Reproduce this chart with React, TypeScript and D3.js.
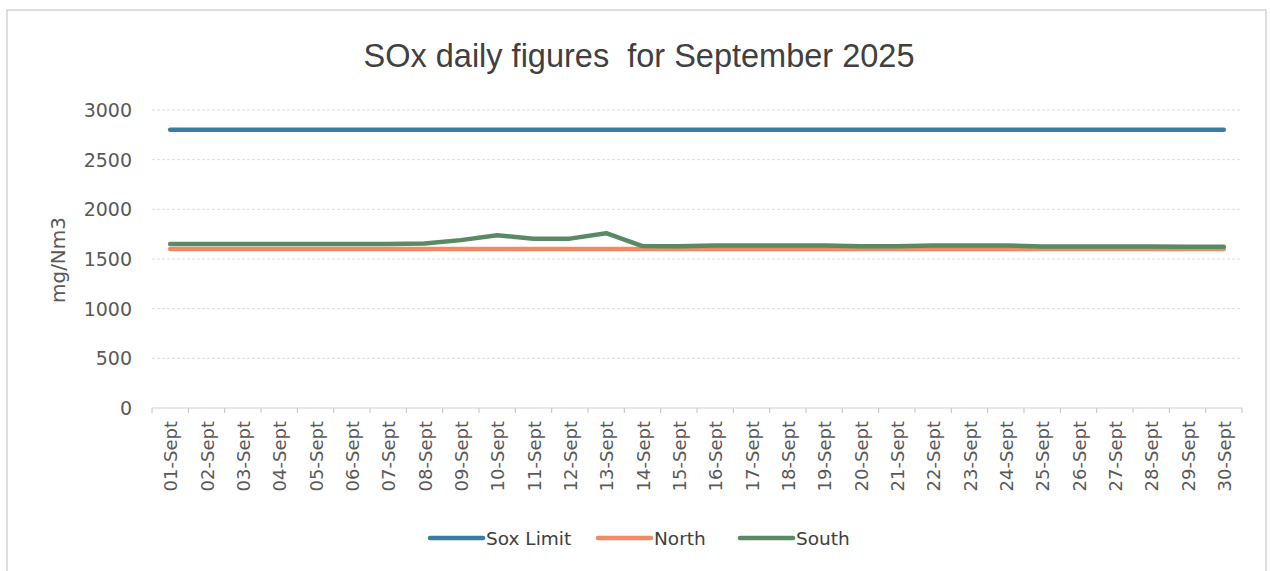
import React from "react";
import * as d3 from "d3";

const days: string[] = [
  "01-Sept","02-Sept","03-Sept","04-Sept","05-Sept","06-Sept","07-Sept","08-Sept","09-Sept","10-Sept",
  "11-Sept","12-Sept","13-Sept","14-Sept","15-Sept","16-Sept","17-Sept","18-Sept","19-Sept","20-Sept",
  "21-Sept","22-Sept","23-Sept","24-Sept","25-Sept","26-Sept","27-Sept","28-Sept","29-Sept","30-Sept",
];
const soxLimit: number[] = Array(30).fill(2800);
const north: number[] = [
  1600,1600,1600,1600,1600,1600,1600,1600,1600,1600,
  1600,1600,1600,1600,1600,1600,1600,1600,1600,1600,
  1600,1600,1600,1600,1600,1600,1600,1600,1600,1600,
];
const south: number[] = [
  1650,1650,1650,1650,1650,1650,1650,1655,1690,1740,
  1705,1705,1760,1630,1628,1636,1636,1636,1636,1628,
  1628,1636,1636,1636,1626,1626,1626,1626,1624,1624,
];
const yTicks: number[] = [0, 500, 1000, 1500, 2000, 2500, 3000];

const seriesNames = ["Sox Limit", "North", "South"];
const seriesColors = ["#3A7CA3", "#F28A67", "#5A8A64"];

const W = 1270, H = 571;
const plotLeft = 152, plotRight = 1242, plotTop = 110, plotBottom = 408;
const titleFont = "'Liberation Sans', Arial, sans-serif";
const font = "'DejaVu Sans', Verdana, sans-serif";

export default function App() {
  const x = d3.scaleBand<string>().domain(days).range([plotLeft, plotRight]);
  const y = d3.scaleLinear().domain([0, 3000]).range([plotBottom, plotTop]);
  const line = d3.line<number>()
    .x((_, i) => (x(days[i]) as number) + x.bandwidth() / 2)
    .y((d) => y(d));
  const series = [soxLimit, north, south];
  const legendX = [430, 598, 740];
  const tickXs = days.map((d) => x(d) as number).concat([plotRight]);

  return (
    <svg width={W} height={H} style={{ position: "absolute", left: 0, top: 0, background: "#fff" }}>
      <rect x={7} y={10} width={1259} height={570} fill="#fff" stroke="#c8c8c8" strokeWidth={1.2} />
      <text x={639} y={67} textAnchor="middle" fontFamily={titleFont} fontSize={32.5} fill="#404040"
        style={{ whiteSpace: "pre" }}>
        {"SOx daily figures  for September 2025"}
      </text>
      {yTicks.map((t) => (
        <g key={t}>
          {t > 0 && (
            <line x1={plotLeft} x2={plotRight} y1={y(t)} y2={y(t)} stroke="#dcdcdc" strokeWidth={1} strokeDasharray="3,2" />
          )}
          <text x={132} y={y(t) + 7} textAnchor="end" fontFamily={font} fontSize={19} fill="#595959">
            {t}
          </text>
        </g>
      ))}
      <line x1={plotLeft} x2={plotRight} y1={plotBottom} y2={plotBottom} stroke="#d0d0d0" strokeWidth={1} />
      {tickXs.map((tx, i) => (
        <line key={i} x1={tx} x2={tx} y1={plotBottom} y2={plotBottom + 5} stroke="#c0c0c0" strokeWidth={1} />
      ))}
      {days.map((d) => {
        const cx = (x(d) as number) + x.bandwidth() / 2;
        return (
          <text key={d} transform={`translate(${cx + 7},${421}) rotate(-90)`} textAnchor="end"
            fontFamily={font} fontSize={18} fill="#595959">
            {d}
          </text>
        );
      })}
      <text transform={`translate(65,${260}) rotate(-90)`} textAnchor="middle" fontFamily={font} fontSize={20} fill="#595959">
        mg/Nm3
      </text>
      {series.map((s, i) => (
        <path key={i} d={line(s) || ""} fill="none" stroke={seriesColors[i]} strokeWidth={4.5}
          strokeLinecap="round" strokeLinejoin="round" />
      ))}
      {seriesNames.map((n, i) => (
        <g key={n}>
          <line x1={legendX[i]} x2={legendX[i] + 53} y1={538} y2={538} stroke={seriesColors[i]} strokeWidth={4.5} strokeLinecap="round" />
          <text x={legendX[i] + 56} y={545} fontFamily={font} fontSize={18.5} fill="#404040">{n}</text>
        </g>
      ))}
    </svg>
  );
}
